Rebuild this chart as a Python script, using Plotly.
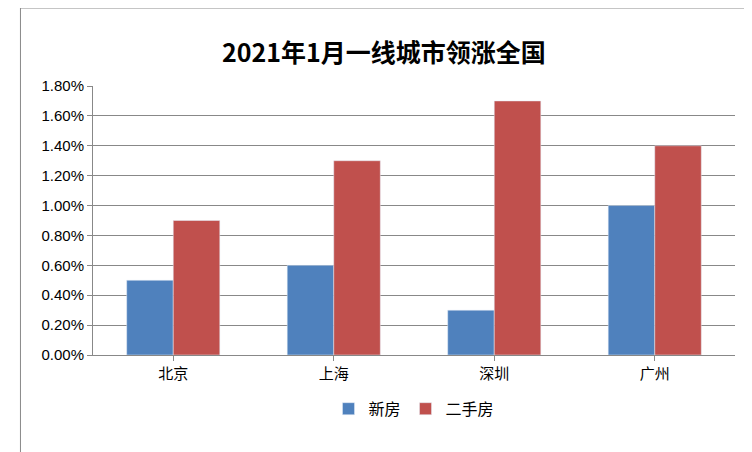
import plotly.graph_objects as go

cities = ["北京", "上海", "深圳", "广州"]
new_house = [0.005, 0.006, 0.003, 0.010]
second_hand = [0.009, 0.013, 0.017, 0.014]

fig = go.Figure()
fig.add_bar(x=cities, y=new_house, name="新房", marker_color="#4F81BD")
fig.add_bar(x=cities, y=second_hand, name="二手房", marker_color="#C0504D")
fig.update_layout(
    width=752, height=452,
    paper_bgcolor="white", plot_bgcolor="white",
    font=dict(family="Noto Sans CJK SC", size=15, color="black"),
    title=dict(text="<b>2021年1月一线城市领涨全国</b>", x=0.5, xanchor="center", y=0.9, yanchor="middle",
               font=dict(size=25)),
    margin=dict(l=85, r=25, t=78, b=105),
    bargap=0.42, bargroupgap=0,
    legend=dict(orientation="h", x=0.5, xanchor="center", y=-0.2, yanchor="middle", font=dict(size=16)),
    shapes=[dict(type="rect", xref="paper", yref="paper", x0=-0.113, x1=1.04, y0=-0.385, y1=1.29,
                 line=dict(color="#888", width=1))],
)
fig.update_yaxes(range=[0, 0.018], dtick=0.002, tickformat=".2%", showgrid=True, gridcolor="#888",
                 showline=True, linecolor="#888", ticks="outside", ticklen=5, tickcolor="#888",
                 tickfont=dict(family="Liberation Sans", size=15))
fig.update_xaxes(showline=True, linecolor="#888", ticks="outside", tickcolor="#888", ticklen=5)
fig.write_html("out.html")
